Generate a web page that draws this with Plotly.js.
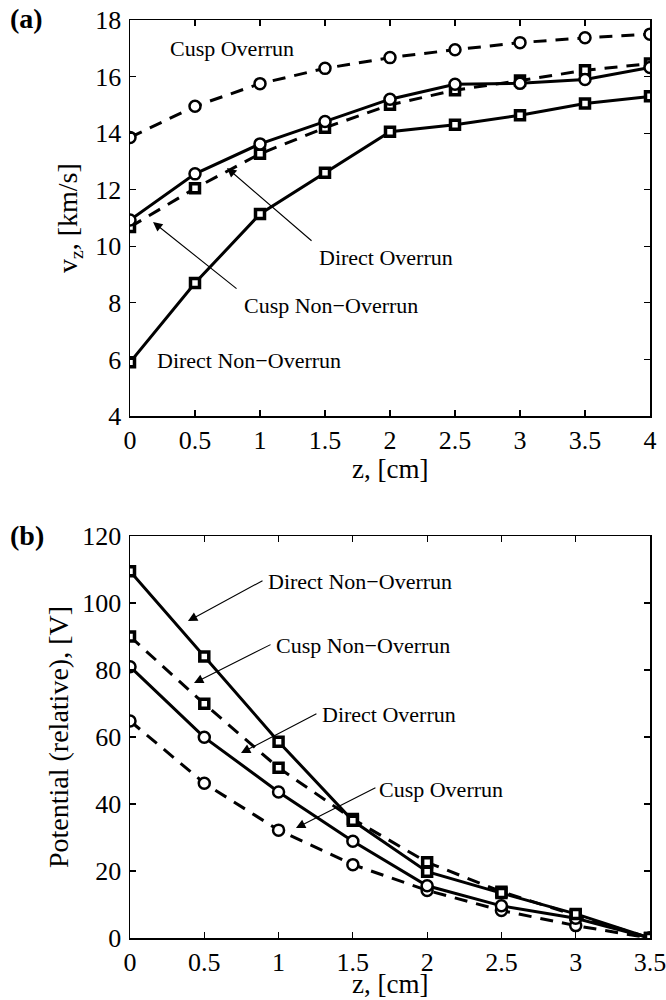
<!DOCTYPE html>
<html>
<head>
<meta charset="utf-8">
<script src="https://cdn.plot.ly/plotly-3.0.1.min.js"></script>
<style>html,body{margin:0;padding:0;background:#fff;}#chart{width:666px;height:1000px;}</style>
</head>
<body>
<div id="chart"></div>
<script>
// ---- Panel (a): axial velocity vs z ----
const zA = [0, 0.5, 1, 1.5, 2, 2.5, 3, 3.5, 4];
const aCuspOverrun      = [13.85, 14.95, 15.75, 16.29, 16.67, 16.95, 17.2, 17.37, 17.5];
const aDirectOverrun    = [10.93, 12.56, 13.62, 14.41, 15.2, 15.73, 15.76, 15.9, 16.32];
const aCuspNonOverrun   = [10.68, 12.05, 13.27, 14.19, 15.0, 15.52, 15.86, 16.22, 16.46];
const aDirectNonOverrun = [5.9, 8.7, 11.14, 12.6, 14.05, 14.3, 14.63, 15.05, 15.3];
const xTicksA = [0, 0.5, 1, 1.5, 2, 2.5, 3, 3.5, 4];
const xTickTextA = ["0", "0.5", "1", "1.5", "2", "2.5", "3", "3.5", "4"];
const yTicksA = [4, 6, 8, 10, 12, 14, 16, 18];

// ---- Panel (b): potential vs z ----
const zB = [0, 0.5, 1, 1.5, 2, 2.5, 3, 3.5];
const bDirectNonOverrun = [109.5, 84, 58.6, 35, 19.8, 13.4, 7.2, 0];
const bCuspNonOverrun   = [90, 69.9, 50.8, 35.5, 22.6, 13.8, 6.8, 0];
const bDirectOverrun    = [81, 59.9, 43.6, 28.9, 15.6, 9.6, 5.9, 0];
const bCuspOverrun      = [64.8, 46.2, 32.2, 21.9, 14.2, 8.2, 3.7, 0];
const xTicksB = [0, 0.5, 1, 1.5, 2, 2.5, 3, 3.5];
const xTickTextB = ["0", "0.5", "1", "1.5", "2", "2.5", "3", "3.5"];
const yTicksB = [0, 20, 40, 60, 80, 100, 120];

const FONT = "Liberation Serif, Times New Roman, serif";
const DASH = "13px,9px";

function series(x, y, dashed, symbol, xa, ya) {
  const isCircle = symbol === "circle";
  return {
    x: x, y: y, xaxis: xa, yaxis: ya, type: "scatter", mode: "lines+markers",
    showlegend: false, hoverinfo: "skip",
    line: {color: "black", width: 3, dash: dashed ? DASH : "solid"},
    marker: {symbol: symbol, size: isCircle ? 11 : 9, color: "white",
             line: {color: "black", width: isCircle ? 2.5 : 3.5}}
  };
}

const traces = [
  series(zA, aCuspOverrun, true, "circle", "x", "y"),
  series(zA, aCuspNonOverrun, true, "square", "x", "y"),
  series(zA, aDirectOverrun, false, "circle", "x", "y"),
  series(zA, aDirectNonOverrun, false, "square", "x", "y"),
  series(zB, bCuspOverrun, true, "circle", "x2", "y2"),
  series(zB, bCuspNonOverrun, true, "square", "x2", "y2"),
  series(zB, bDirectOverrun, false, "circle", "x2", "y2"),
  series(zB, bDirectNonOverrun, false, "square", "x2", "y2")
];

function axisBase() {
  return {
    showgrid: false, zeroline: false, showline: true, linecolor: "black", linewidth: 1.5,
    mirror: "ticks", ticks: "inside", ticklen: 6, tickwidth: 1.2, tickcolor: "black",
    tickfont: {family: FONT, size: 26, color: "black"}, fixedrange: true,
    ticklabeloverflow: "allow"
  };
}

const xA = Object.assign(axisBase(), {domain: [130/666, 650/666], anchor: "y", range: [0, 4],
  tickmode: "array", tickvals: xTicksA, ticktext: xTickTextA});
const yA = Object.assign(axisBase(), {domain: [0.584, 0.980], anchor: "x", range: [4, 18],
  tickmode: "array", tickvals: yTicksA, ticklabelstandoff: 2});
const xB = Object.assign(axisBase(), {domain: [130/666, 650/666], anchor: "y2", range: [0, 3.5],
  tickmode: "array", tickvals: xTicksB, ticktext: xTickTextB});
const yB = Object.assign(axisBase(), {domain: [0.062, 0.464], anchor: "x2", range: [0, 120],
  tickmode: "array", tickvals: yTicksB, ticklabelstandoff: 2});

function label(text, x, y, xr, yr) {
  return {text: text, x: x, y: y, xref: xr, yref: yr, showarrow: false,
          xanchor: "center", yanchor: "middle", font: {family: FONT, size: 22, color: "black"}};
}
function arrow(x, y, ax, ay, xr, yr) {
  return {text: "", x: x, y: y, ax: ax, ay: ay, xref: xr, yref: yr, axref: xr, ayref: yr,
          showarrow: true, arrowhead: 2, arrowsize: 1.7, arrowwidth: 1.1, arrowcolor: "black"};
}
function paperText(text, px, py, size, angle, yanchor) {
  return {text: text, x: px/666, y: 1 - py/1000, xref: "paper", yref: "paper", showarrow: false,
          xanchor: "center", yanchor: yanchor || "middle", textangle: angle || 0, borderpad: 0,
          font: {family: FONT, size: size, color: "black"}};
}

const annotations = [
  // panel (a)
  label("Cusp Overrun", 0.785, 17.0, "x", "y"),
  label("Direct Overrun", 1.97, 9.62, "x", "y"),
  arrow(0.746, 12.77, 1.408, 10.15, "x", "y"),
  label("Cusp Non\u2212Overrun", 1.546, 7.89, "x", "y"),
  arrow(0.177, 10.86, 0.831, 8.46, "x", "y"),
  label("Direct Non\u2212Overrun", 0.912, 5.96, "x", "y"),
  // panel (b)
  label("Direct Non\u2212Overrun", 1.548, 106.3, "x2", "y2"),
  arrow(0.390, 94.6, 0.902, 106.9, "x2", "y2"),
  label("Cusp Non\u2212Overrun", 1.565, 87.2, "x2", "y2"),
  arrow(0.431, 76.1, 0.956, 87.8, "x2", "y2"),
  label("Direct Overrun", 1.743, 66.6, "x2", "y2"),
  arrow(0.747, 55.2, 1.265, 67.2, "x2", "y2"),
  label("Cusp Overrun", 2.093, 44.2, "x2", "y2"),
  arrow(1.117, 32.8, 1.662, 45.1, "x2", "y2"),
  // axis titles
  paperText("v<sub>z</sub>, [km/s]", 70, 218, 28, -90),
  paperText("z, [cm]", 390, 469, 27, 0),
  paperText("Potential (relative), [V]", 58, 737, 28, -90),
  paperText("z, [cm]", 390, 1000, 27, 0, "bottom"),
  // panel letters
  paperText("<b>(a)</b>", 26, 18, 28, 0),
  paperText("<b>(b)</b>", 27, 535, 28, 0)
];

const layout = {
  width: 666, height: 1000,
  margin: {l: 0, r: 0, t: 0, b: 0, pad: 0},
  paper_bgcolor: "white", plot_bgcolor: "white",
  xaxis: xA, yaxis: yA, xaxis2: xB, yaxis2: yB,
  annotations: annotations,
  showlegend: false
};

Plotly.newPlot("chart", traces, layout, {staticPlot: true, displayModeBar: false});
</script>
</body>
</html>
